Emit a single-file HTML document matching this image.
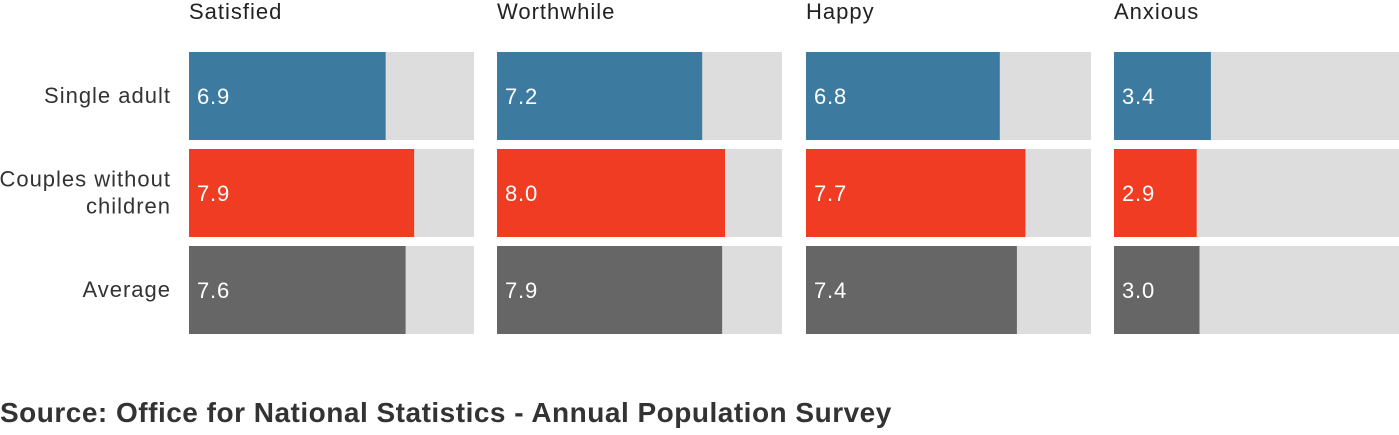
<!DOCTYPE html>
<html><head><meta charset="utf-8"><style>
body{margin:0;background:#fff;width:1399px;height:430px;overflow:hidden;font-family:"Liberation Sans",sans-serif}
</style></head><body>
<svg id="c" width="1399" height="430"></svg>
<script>
const metrics=["Satisfied","Worthwhile","Happy","Anxious"];
const groups=["Single adult","Couples without children","Average"];
const singleAdult=[6.9,7.2,6.8,3.4];
const couples=[7.9,8.0,7.7,2.9];
const average=[7.6,7.9,7.4,3.0];
const series=[singleAdult,couples,average];
const colors=["#3d7aa0","#f03c23","#666666"];
const svg=document.getElementById('c');
const NS="http://www.w3.org/2000/svg";
const panelX=[189,497,806,1114],panelW=285,rowY=[52,149,246],rowH=88,maxV=10;
const xs=v=>v/maxV*panelW;
function mk(t,a,txt){const e=document.createElementNS(NS,t);for(const k in a)e.setAttribute(k,a[k]);if(txt!=null)e.textContent=txt;svg.appendChild(e);return e;}
metrics.forEach((m,i)=>{
  const t=mk('text',{x:panelX[i],y:19,'font-size':22,'letter-spacing':1,fill:'#222'},m);
  
  
  series.forEach((s,r)=>{
    const bg=mk('rect',{x:panelX[i],y:rowY[r],width:panelW,height:rowH,fill:'#dddddd'});
    
    
    const b=mk('rect',{x:panelX[i],y:rowY[r],width:xs(s[i]),height:rowH,fill:colors[r]});
    
    
    const l=mk('text',{x:panelX[i]+8,y:rowY[r]+52,'font-size':22,'letter-spacing':0.8,fill:'#fff'},s[i].toFixed(1));
    
    
  });
});
const rowLabels=[["Single adult"],["Couples without","children"],["Average"]];
rowLabels.forEach((ls,r)=>{
  const cy=rowY[r]+rowH/2;
  ls.forEach((t,j)=>{
    const y=cy+7+(j-(ls.length-1)/2)*27;
    const e=mk('text',{x:171,y:y,'font-size':22,'letter-spacing':1,fill:'#333','text-anchor':'end'},t);
    
    
  });
});
const s=mk('text',{x:0,y:422,'font-size':28,'letter-spacing':0.5,'font-weight':'bold',fill:'#333'},"Source: Office for National Statistics - Annual Population Survey");


</script>
</body></html>
